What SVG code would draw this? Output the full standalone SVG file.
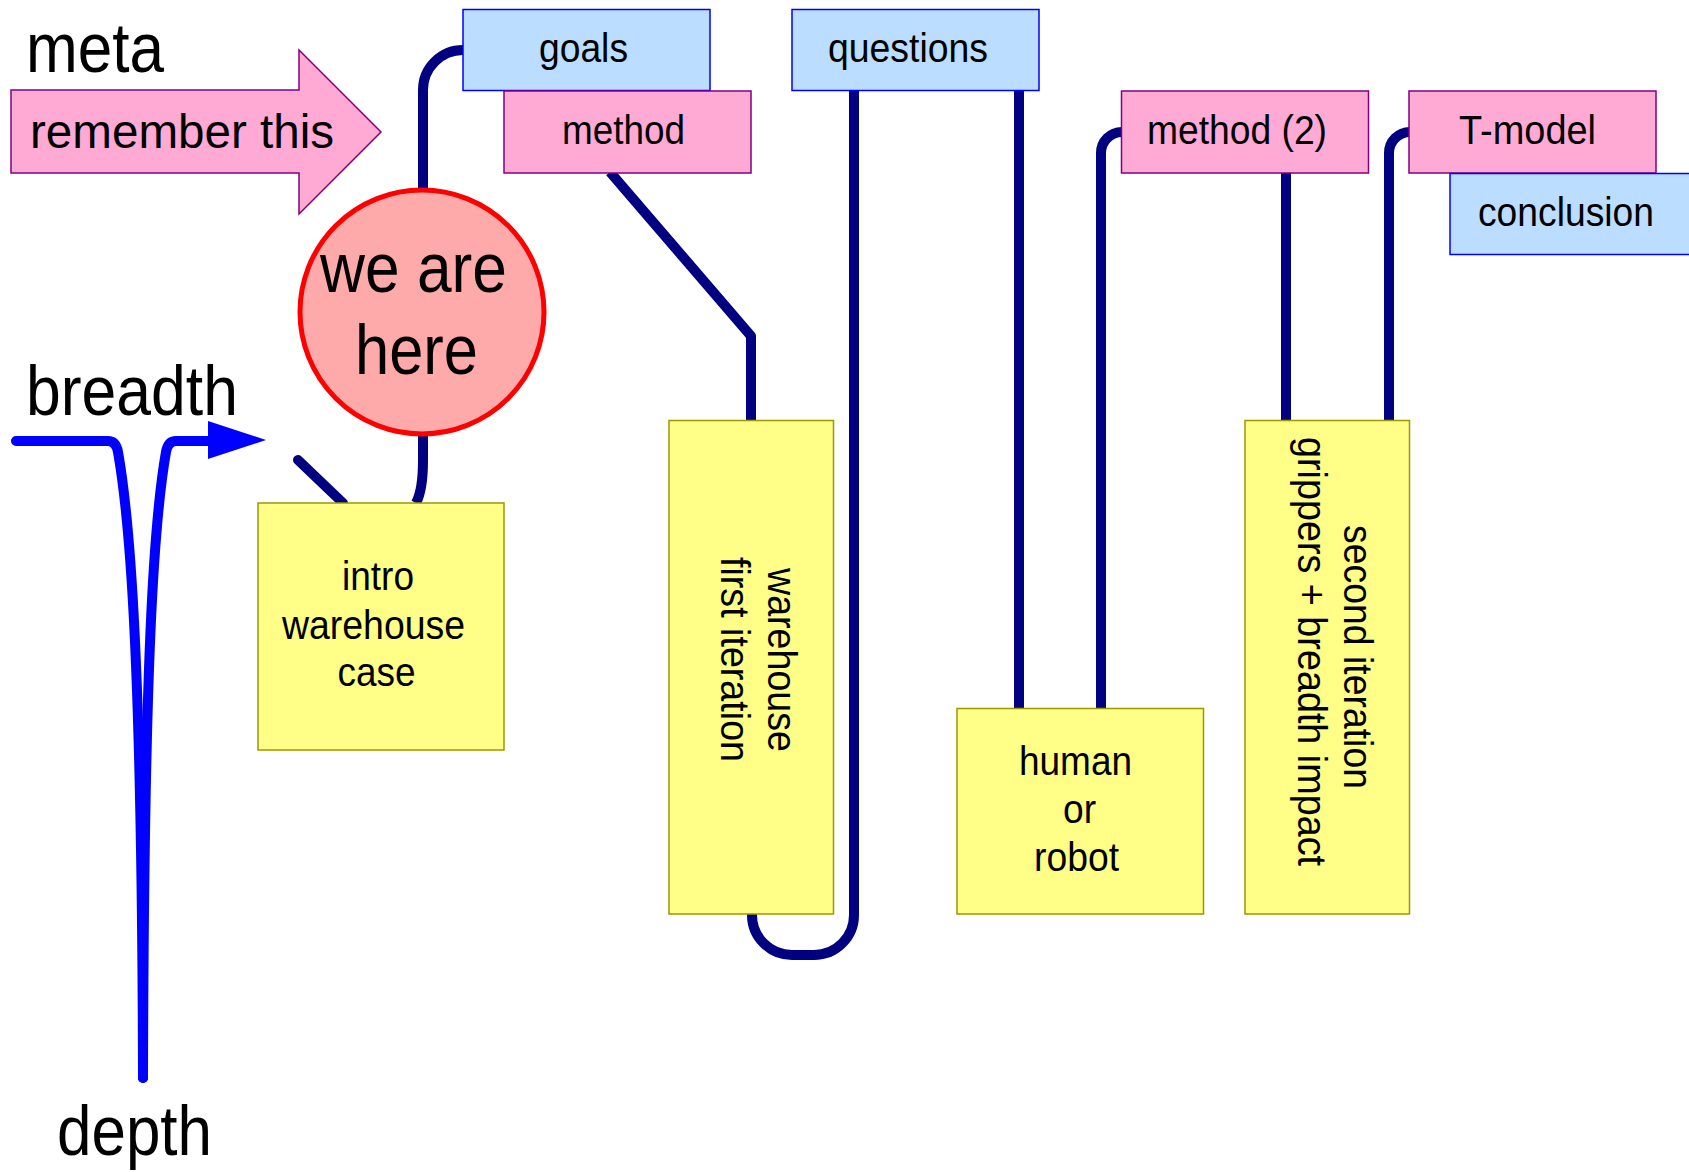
<svg xmlns="http://www.w3.org/2000/svg" width="1689" height="1172" viewBox="0 0 1689 1172">
<style>
text{font-family:"Liberation Sans",Arial,Helvetica,sans-serif;fill:#000}
.big{font-size:70px}
.mid{font-size:48px}
.sm{font-size:40px}
.pink{fill:#ffaad4;stroke:#800080;stroke-width:1.5}
.blue{fill:#bbddff;stroke:#0000ff;stroke-width:1.5}
.yel{fill:#ffff88;stroke:#999900;stroke-width:1.5}
.con{fill:none;stroke:#000080;stroke-width:10;stroke-linecap:butt;stroke-linejoin:round}
.bl{fill:none;stroke:#0000ff;stroke-width:10;stroke-linecap:round;stroke-linejoin:round}
</style>
<rect width="1689" height="1172" fill="#ffffff"/>
<g id="connectors">
<path class="con" d="M 463 50 A 40 40 0 0 0 423 90 V 460 Q 423 490 416 503"/>
<path class="con" d="M 610 172 L 751 336 V 421"/>
<path class="con" d="M 854 90 V 915 A 40 40 0 0 1 814 955 H 792 A 40 40 0 0 1 752 915 V 912"/>
<path class="con" d="M 1019 90 V 709"/>
<path class="con" d="M 1122 132 A 21 21 0 0 0 1101 153 V 709"/>
<path class="con" d="M 1286 172 V 421"/>
<path class="con" d="M 1410 132 A 21 21 0 0 0 1389 153 V 421"/>
<path class="con" style="stroke-linecap:round" d="M 298 460 L 343 503"/>
<path class="bl" d="M 16 441 H 108 Q 116 441 118 452 C 130 520 142 660 143 1078"/>
<path class="bl" d="M 210 441 H 176 Q 168 441 166 452 C 154 520 144 660 143 1078"/>
<polygon points="208,421 266,440 208,459" fill="#0000ff"/>
</g>
<g id="meta-label"><text class="big" x="26" y="72" font-size="72" textLength="138" lengthAdjust="spacingAndGlyphs">meta</text></g>
<g id="remember">
<polygon class="pink" points="11,90 299,90 299,50 381,132 299,214 299,173 11,173"/>
<text class="mid" x="30" y="148" textLength="304" lengthAdjust="spacingAndGlyphs">remember this</text>
</g>
<g id="breadth-label"><text class="big" x="26" y="415" textLength="212" lengthAdjust="spacingAndGlyphs">breadth</text></g>
<g id="depth-label"><text class="big" x="57" y="1155" textLength="155" lengthAdjust="spacingAndGlyphs">depth</text></g>
<g id="goals">
<rect class="blue" x="463" y="9.5" width="247" height="81"/>
<text class="sm" x="539" y="62" textLength="89" lengthAdjust="spacingAndGlyphs">goals</text>
</g>
<g id="method">
<rect class="pink" x="504" y="91" width="247" height="82"/>
<text class="sm" x="562" y="144" textLength="123" lengthAdjust="spacingAndGlyphs">method</text>
</g>
<g id="questions">
<rect class="blue" x="792" y="9.5" width="247" height="81"/>
<text class="sm" x="828" y="62" textLength="160" lengthAdjust="spacingAndGlyphs">questions</text>
</g>
<g id="method2">
<rect class="pink" x="1121.5" y="91" width="247" height="82"/>
<text class="sm" x="1147" y="144" textLength="180" lengthAdjust="spacingAndGlyphs">method (2)</text>
</g>
<g id="tmodel">
<rect class="pink" x="1409" y="91" width="247" height="82"/>
<text class="sm" x="1459" y="144" textLength="137" lengthAdjust="spacingAndGlyphs">T-model</text>
</g>
<g id="conclusion">
<rect class="blue" x="1450" y="173.5" width="247" height="81"/>
<text class="sm" x="1478" y="226" textLength="176" lengthAdjust="spacingAndGlyphs">conclusion</text>
</g>
<g id="we-are-here">
<circle cx="422" cy="312" r="122" fill="#ffaaaa" stroke="#ff0000" stroke-width="5"/>
<text class="big" x="320" y="292" textLength="187" lengthAdjust="spacingAndGlyphs">we are</text>
<text class="big" x="355" y="374" textLength="123" lengthAdjust="spacingAndGlyphs">here</text>
</g>
<g id="intro">
<rect class="yel" x="258" y="503" width="246" height="247"/>
<text class="sm" x="342" y="590" textLength="72" lengthAdjust="spacingAndGlyphs">intro</text>
<text class="sm" x="282" y="639" textLength="183" lengthAdjust="spacingAndGlyphs">warehouse</text>
<text class="sm" x="337.5" y="686" textLength="78" lengthAdjust="spacingAndGlyphs">case</text>
</g>
<g id="warehouse">
<rect class="yel" x="669" y="420.5" width="164.5" height="493.5"/>
<g transform="translate(751,660) rotate(90)">
<text class="sm" x="-92" y="-17" textLength="184" lengthAdjust="spacingAndGlyphs">warehouse</text>
<text class="sm" x="-103" y="30.5" textLength="205" lengthAdjust="spacingAndGlyphs">first iteration</text>
</g>
</g>
<g id="human">
<rect class="yel" x="957" y="708.5" width="246.5" height="205.5"/>
<text class="sm" x="1019" y="775" textLength="113" lengthAdjust="spacingAndGlyphs">human</text>
<text class="sm" x="1063" y="823" textLength="33" lengthAdjust="spacingAndGlyphs">or</text>
<text class="sm" x="1034" y="871" textLength="85" lengthAdjust="spacingAndGlyphs">robot</text>
</g>
<g id="second">
<rect class="yel" x="1245" y="420.5" width="164.5" height="493.5"/>
<g transform="translate(1327,657) rotate(90)">
<text class="sm" x="-132" y="-17" textLength="264" lengthAdjust="spacingAndGlyphs">second iteration</text>
<text class="sm" x="-220" y="29" textLength="429" lengthAdjust="spacingAndGlyphs">grippers + breadth impact</text>
</g>
</g>
</svg>
